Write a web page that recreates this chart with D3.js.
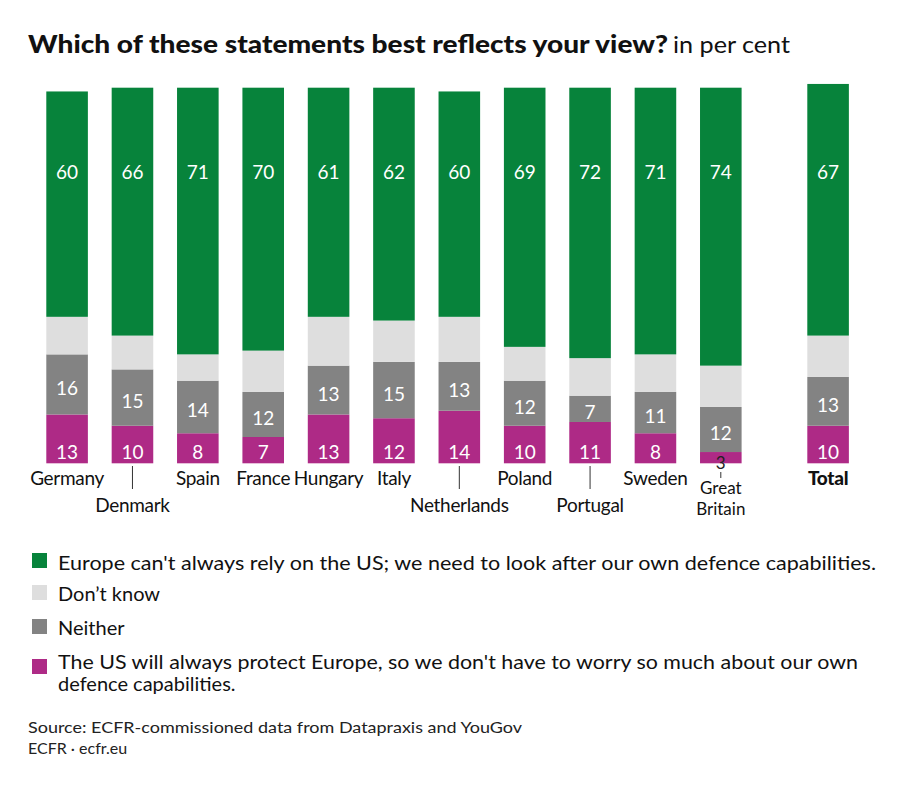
<!DOCTYPE html>
<html>
<head>
<meta charset="utf-8">
<script src="https://cdn.jsdelivr.net/npm/d3@7"></script>
<style>
  html, body { margin: 0; padding: 0; background: #ffffff; }
  svg { display: block; font-family: Lato, "Open Sans", sans-serif; }
</style>
</head>
<body>
<svg id="chart" width="899" height="786"></svg>
<script>
// ---- data ----
const categories = ["Germany","Denmark","Spain","France","Hungary","Italy","Netherlands","Poland","Portugal","Sweden","Great Britain","Total"];
const relyOnSelf = [60,66,71,70,61,62,60,69,72,71,74,67];
const dontKnow   = [10,9,7,11,13,11,12,9,10,10,11,11];
const neither    = [16,15,14,12,13,15,13,12,7,11,12,13];
const usProtects = [13,10,8,7,13,12,14,10,11,8,3,10];
const seriesNames = [
  "The US will always protect Europe, so we don't have to worry so much about our own defence capabilities.",
  "Neither",
  "Don\u2019t know",
  "Europe can't always rely on the US; we need to look after our own defence capabilities."
];
const titleText = "Which of these statements best reflects your view?";
const subtitleText = "in per cent";
const sourceText = "Source: ECFR-commissioned data from Datapraxis and YouGov";
const creditText = "ECFR \u00b7 ecfr.eu";

// ---- layout ----
const colors = { protect: "#ae2a86", neither: "#838383", dk: "#dedede", rely: "#07833b" };
const svg = d3.select("#chart");

const countries = categories.slice(0, 11);
const xC = d3.scaleBand().domain(countries).range([46.3, 741.6]).paddingInner(0.364).paddingOuter(0);
const xT = d3.scaleBand().domain(["Total"]).range([807.3, 848.9]).padding(0);
const xPos = c => c === "Total" ? xT(c) : xC(c);
const bw = xC.bandwidth();
const y = d3.scaleLinear().domain([0, 100]).range([463.3, 87.7]);

const rows = categories.map((c, i) => ({
  cat: c, protect: usProtects[i], neither: neither[i], dk: dontKnow[i], rely: relyOnSelf[i]
}));
const keys = ["protect", "neither", "dk", "rely"];
const stacked = d3.stack().keys(keys)(rows);

// title
svg.append("text").attr("x", 28).attr("y", 53)
  .attr("font-weight", 900).attr("font-size", 25).attr("fill", "#111")
  .attr("textLength", 640).attr("lengthAdjust", "spacingAndGlyphs").text(titleText);
svg.append("text").attr("x", 673).attr("y", 53).attr("font-size", 23).attr("fill", "#111")
  .attr("textLength", 117).attr("lengthAdjust", "spacingAndGlyphs").text(subtitleText);

// bars
const g = svg.append("g");
stacked.forEach(layer => {
  g.selectAll(null).data(layer).enter().append("rect")
    .attr("x", d => xPos(d.data.cat))
    .attr("width", bw)
    .attr("y", d => y(d[1]))
    .attr("height", d => y(d[0]) - y(d[1]))
    .attr("fill", colors[layer.key]);
});

// value labels
const cx = c => xPos(c) + bw / 2;
const valFont = 19;
const segH = d => y(d[0]) - y(d[1]);
// green
g.selectAll(null).data(stacked[3]).enter().append("text")
  .attr("x", d => cx(d.data.cat)).attr("y", 171)
  .attr("text-anchor", "middle").attr("dominant-baseline", "central")
  .attr("font-size", valFont).attr("fill", "#fff")
  .text(d => d.data.rely);
// neither
g.selectAll(null).data(stacked[1]).enter().append("text")
  .attr("x", d => cx(d.data.cat)).attr("y", d => (y(d[0]) + y(d[1])) / 2 + 3)
  .attr("text-anchor", "middle").attr("dominant-baseline", "central")
  .attr("font-size", valFont).attr("fill", "#fff")
  .text(d => d.data.neither);
// protect
g.selectAll(null).data(stacked[0]).enter().append("text")
  .attr("x", d => cx(d.data.cat))
  .attr("y", d => (segH(d) < 25 ? y(d[0]) - 1 : 451))
  .attr("text-anchor", "middle").attr("dominant-baseline", "central")
  .attr("font-size", d => (segH(d) < 25 ? 17 : valFont))
  .attr("fill", d => (segH(d) < 25 ? "#222" : "#fff"))
  .text(d => d.data.protect);

// category labels
const lowLabels = new Set(["Denmark", "Netherlands", "Portugal"]);
const labelFont = 19;
categories.forEach(c => {
  const x0 = cx(c);
  if (c === "Great Britain") {
    g.append("line").attr("x1", x0).attr("x2", x0).attr("y1", 472).attr("y2", 478)
      .attr("stroke", "#333").attr("stroke-width", 1);
    const words = c.split(" ");
    words.forEach((w, j) => {
      g.append("text").attr("x", x0).attr("y", 494 + j * 21).attr("text-anchor", "middle")
        .attr("font-size", 17).attr("fill", "#111").text(w);
    });
  } else if (lowLabels.has(c)) {
    g.append("line").attr("x1", x0).attr("x2", x0).attr("y1", 466).attr("y2", 489)
      .attr("stroke", "#333").attr("stroke-width", 1);
    g.append("text").attr("x", x0).attr("y", 512).attr("text-anchor", "middle")
      .attr("font-size", labelFont).attr("fill", "#111").attr("letter-spacing", -0.3).text(c);
  } else {
    g.append("text").attr("x", x0).attr("y", 485).attr("text-anchor", "middle")
      .attr("font-size", labelFont).attr("fill", "#111").attr("letter-spacing", -0.3)
      .attr("font-weight", c === "Total" ? 900 : 400).text(c);
  }
});

// legend
const legendItems = [
  { key: "rely", lines: [seriesNames[3]], y: 562, sq: 553, len: [818] },
  { key: "dk", lines: [seriesNames[2]], y: 593, sq: 585, len: [null] },
  { key: "neither", lines: [seriesNames[1]], y: 627, sq: 619, len: [null] },
  { key: "protect", lines: ["The US will always protect Europe, so we don't have to worry so much about our own", "defence capabilities."], y: 661, sq: 659, len: [800, null] }
];
const lg = svg.append("g");
legendItems.forEach(it => {
  lg.append("rect").attr("x", 32).attr("y", it.sq).attr("width", 15).attr("height", 15).attr("fill", colors[it.key]);
  it.lines.forEach((ln, j) => {
    const t = lg.append("text").attr("x", 58).attr("y", it.y + j * 22)
      .attr("dominant-baseline", "central").attr("font-size", 20).attr("fill", "#111").text(ln);
    if (it.len[j]) t.attr("textLength", it.len[j]).attr("lengthAdjust", "spacingAndGlyphs");
  });
});

// source
svg.append("text").attr("x", 28).attr("y", 733).attr("font-size", 16).attr("fill", "#222")
  .attr("textLength", 494).attr("lengthAdjust", "spacingAndGlyphs").text(sourceText);
svg.append("text").attr("x", 28).attr("y", 754).attr("font-size", 16).attr("fill", "#222").text(creditText);
</script>
</body>
</html>
